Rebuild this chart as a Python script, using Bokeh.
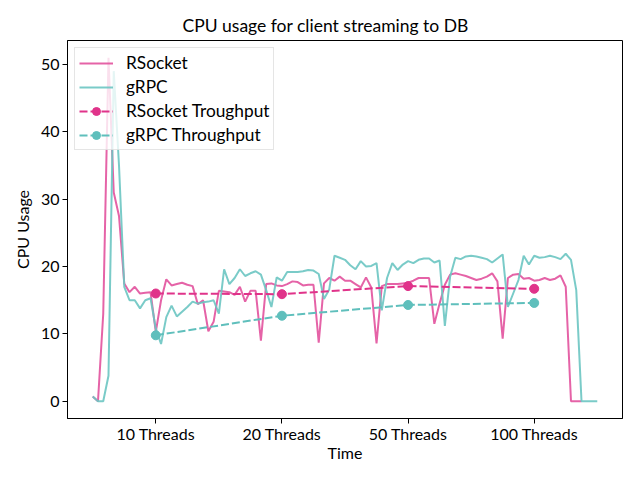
from bokeh.plotting import figure
from bokeh.models import Range1d, FixedTicker, Legend, LegendItem
from bokeh.embed import file_html
from bokeh.resources import INLINE

title = "CPU usage for client streaming to DB"

rsocket_cpu = [0.7, 0.0, 13.0, 51.0, 31.0, 27.5, 17.5, 16.2, 17.0, 16.0,
               16.1, 16.2, 10.3, 15.0, 18.1, 17.2, 17.4, 17.6, 17.3, 17.1,
               14.4, 15.0, 10.4, 11.8, 16.4, 16.3, 16.2, 15.8, 17.0, 14.8,
               16.4, 16.4, 9.0, 17.4, 17.5, 17.2, 17.1, 17.4, 17.8, 17.7,
               17.2, 17.3, 17.3, 8.7, 17.5, 18.3, 17.9, 18.5, 17.9, 17.9,
               17.4, 16.9, 18.4, 16.9, 8.6, 17.1, 17.4, 17.4, 17.4, 17.5,
               17.6, 17.9, 18.3, 18.3, 18.3, 11.5, 14.5, 17.3, 18.8, 19.0,
               18.8, 18.6, 18.3, 18.0, 18.2, 18.5, 19.0, 17.8, 9.3, 18.3,
               18.8, 18.9, 18.2, 18.3, 17.9, 18.0, 18.3, 18.0, 18.2, 18.7,
               17.0, 0.0, 0.0, 0.0]

grpc_cpu = [0.7, 0.0, 0.0, 3.8, 49.0, 35.0, 17.0, 15.0, 15.0, 13.8,
            15.0, 15.3, 10.8, 8.5, 12.5, 14.2, 12.6, 13.3, 14.0, 14.8,
            14.5, 14.7, 14.8, 15.0, 13.0, 19.6, 17.4, 18.3, 19.6, 18.6,
            19.0, 19.3, 18.8, 16.5, 14.0, 18.4, 17.9, 19.2, 19.2, 19.2,
            19.3, 19.5, 19.4, 18.9, 15.2, 16.6, 21.6, 21.3, 21.0, 20.2,
            19.6, 20.8, 20.0, 20.1, 20.5, 13.5, 18.3, 20.5, 19.5, 20.3,
            20.8, 20.5, 21.0, 21.2, 21.2, 20.6, 20.9, 11.2, 18.5, 21.3,
            21.1, 21.5, 21.6, 21.5, 21.3, 21.1, 20.6, 21.2, 21.8, 14.0,
            16.0, 18.0, 21.6, 20.3, 21.6, 21.3, 21.4, 21.6, 21.4, 21.1,
            21.9, 21.0, 16.5, 0.0, 0.0, 0.0, 0.0]

thread_pos = [12, 36, 60, 84]
thread_labels = ["10 Threads", "20 Threads", "50 Threads", "100 Threads"]
rsocket_tp = [16.0, 15.9, 17.1, 16.7]
grpc_tp = [9.8, 12.7, 14.3, 14.6]
y_ticks = [0, 10, 20, 30, 40, 50]

FONT = "Lato"
PINK_LINE = "#e2529d"
TEAL_LINE = "#6cc5c2"
PINK = "#e0338a"
TEAL = "#5fbfbc"

n_max = max(len(rsocket_cpu), len(grpc_cpu)) - 1
ymax = max(max(rsocket_cpu), max(grpc_cpu))
p = figure(width=640, height=480, output_backend="svg", toolbar_location=None,
           x_range=Range1d(-0.05 * n_max, 1.05 * n_max),
           y_range=Range1d(-0.05 * ymax, 1.05 * ymax),
           min_border_left=67, min_border_right=18,
           min_border_top=40, min_border_bottom=62)
p.background_fill_color = "white"
p.border_fill_color = "white"
p.xgrid.visible = False
p.ygrid.visible = False
p.outline_line_color = "black"
p.outline_line_width = 1

p.title.text = title
p.title.align = "left"
p.title.offset = 115
p.title.text_font = FONT
p.title.text_font_size = "17.5px"
p.title.text_font_style = "normal"
p.title.text_color = "black"

for ax in (p.xaxis[0], p.yaxis[0]):
    ax.axis_line_color = "black"
    ax.major_tick_line_color = "black"
    ax.major_tick_out = 5
    ax.major_tick_in = 0
    ax.minor_tick_line_color = None
    ax.major_label_text_font = FONT
    ax.major_label_text_font_size = "16px"
    ax.major_label_text_color = "black"
    ax.axis_label_text_font = FONT
    ax.axis_label_text_font_size = "16px"
    ax.axis_label_text_font_style = "normal"
    ax.axis_label_text_color = "black"

p.xaxis.major_label_standoff = 0
p.xaxis.axis_label_standoff = -3
p.yaxis.major_label_standoff = 3
p.yaxis.axis_label_standoff = 6

p.xaxis.ticker = FixedTicker(ticks=thread_pos)
p.xaxis.major_label_overrides = {k: v for k, v in zip(thread_pos, thread_labels)}
p.yaxis.ticker = FixedTicker(ticks=y_ticks)
p.xaxis.axis_label = "Time"
p.yaxis.axis_label = "CPU Usage"

r1 = p.line(list(range(len(rsocket_cpu))), rsocket_cpu, line_color=PINK_LINE, line_alpha=0.9, line_width=2)
r2 = p.line(list(range(len(grpc_cpu))), grpc_cpu, line_color=TEAL_LINE, line_alpha=0.9, line_width=2)
r3l = p.line(thread_pos, rsocket_tp, line_color=PINK, line_width=2, line_dash="8 3")
r3m = p.scatter(thread_pos, rsocket_tp, size=9, fill_color=PINK, line_color=PINK)
r4l = p.line(thread_pos, grpc_tp, line_color=TEAL, line_width=2, line_dash="8 3")
r4m = p.scatter(thread_pos, grpc_tp, size=9, fill_color=TEAL, line_color=TEAL)

legend = Legend(items=[
    LegendItem(label="RSocket", renderers=[r1]),
    LegendItem(label="gRPC", renderers=[r2]),
    LegendItem(label="RSocket Troughput", renderers=[r3l, r3m]),
    LegendItem(label="gRPC Throughput", renderers=[r4l, r4m]),
], location="top_left")
legend.label_text_font = FONT
legend.label_text_font_size = "17.3px"
legend.label_text_color = "black"
legend.label_height = 20
legend.border_line_color = "#cccccc"
legend.border_line_width = 1
legend.background_fill_alpha = 0.8
legend.glyph_width = 34
legend.glyph_height = 20
legend.spacing = 3
legend.padding = 4
legend.margin = 7
legend.label_standoff = 13
p.add_layout(legend)

open("out.html", "w").write(file_html(p, INLINE))
